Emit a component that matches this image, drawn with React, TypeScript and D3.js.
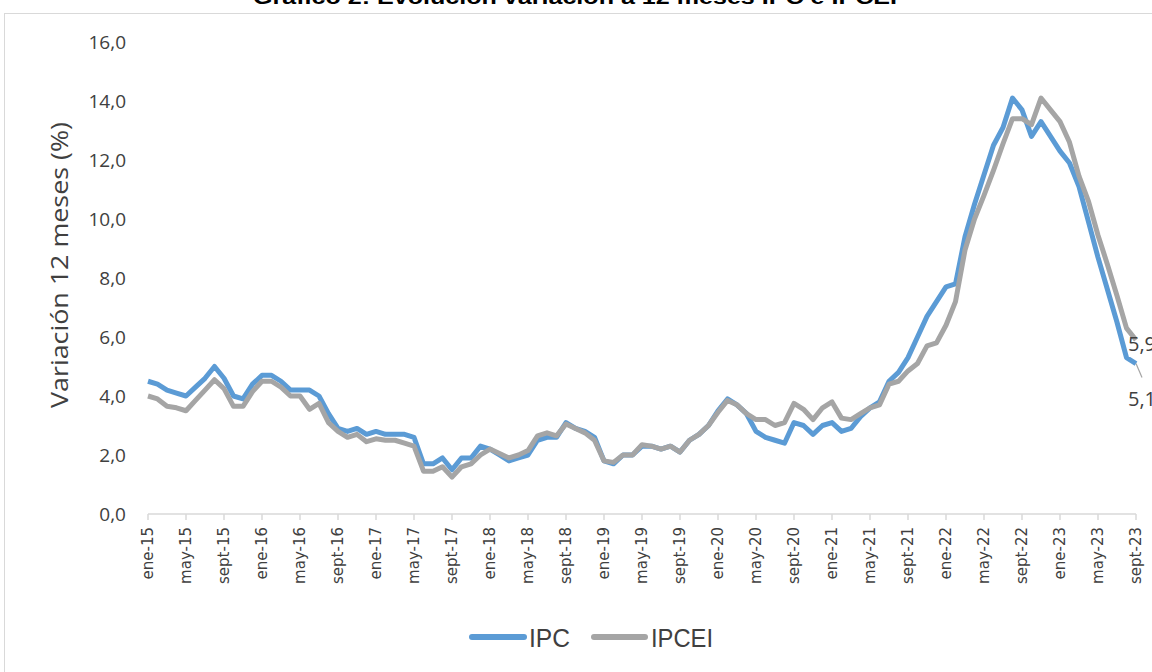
import React from "react";
import * as d3 from "d3";

const monthNames = ["ene", "feb", "mar", "abr", "may", "jun", "jul", "ago", "sept", "oct", "nov", "dic"];
const years = [15, 16, 17, 18, 19, 20, 21, 22, 23];
const lastMonthCount = 9;

const categories: string[] = [];
years.forEach((yr, yi) => {
  const n = yi === years.length - 1 ? lastMonthCount : 12;
  for (let m = 0; m < n; m++) categories.push(`${monthNames[m]}-${yr}`);
});

const ipc = [
  4.5, 4.4, 4.2, 4.1, 4.0, 4.3, 4.6, 5.0, 4.6, 4.0, 3.9, 4.4,
  4.7, 4.7, 4.5, 4.2, 4.2, 4.2, 4.0, 3.4, 2.9, 2.8, 2.9, 2.7,
  2.8, 2.7, 2.7, 2.7, 2.6, 1.7, 1.7, 1.9, 1.5, 1.9, 1.9, 2.3,
  2.2, 2.0, 1.8, 1.9, 2.0, 2.5, 2.6, 2.6, 3.1, 2.9, 2.8, 2.6,
  1.8, 1.7, 2.0, 2.0, 2.3, 2.3, 2.2, 2.3, 2.1, 2.5, 2.7, 3.0,
  3.5, 3.9, 3.7, 3.4, 2.8, 2.6, 2.5, 2.4, 3.1, 3.0, 2.7, 3.0,
  3.1, 2.8, 2.9, 3.3, 3.6, 3.8, 4.5, 4.8, 5.3, 6.0, 6.7, 7.2,
  7.7, 7.8, 9.4, 10.5, 11.5, 12.5, 13.1, 14.1, 13.7, 12.8, 13.3, 12.8,
  12.3, 11.9, 11.1, 9.9, 8.7, 7.6, 6.5, 5.3, 5.1,
];

const ipcei = [
  4.0, 3.9, 3.65, 3.6, 3.5, 3.85, 4.2, 4.55, 4.25, 3.65, 3.65, 4.15,
  4.5, 4.5, 4.3, 4.0, 4.0, 3.55, 3.75, 3.1, 2.8, 2.6, 2.7, 2.45,
  2.55, 2.5, 2.5, 2.4, 2.3, 1.45, 1.45, 1.6, 1.25, 1.6, 1.7, 2.0,
  2.2, 2.05, 1.9, 2.0, 2.15, 2.65, 2.75, 2.65, 3.05, 2.9, 2.75, 2.5,
  1.8, 1.75, 2.0, 2.0, 2.35, 2.3, 2.2, 2.3, 2.1, 2.5, 2.7, 3.0,
  3.45, 3.85, 3.7, 3.4, 3.2, 3.2, 3.0, 3.1, 3.75, 3.55, 3.2, 3.6,
  3.8, 3.25, 3.2, 3.4, 3.6, 3.7, 4.4, 4.5, 4.85, 5.1, 5.7, 5.8,
  6.4, 7.2, 8.95, 10.0, 10.8, 11.65, 12.55, 13.4, 13.4, 13.2, 14.1, 13.7,
  13.3, 12.6, 11.45, 10.6, 9.45, 8.45, 7.4, 6.3, 5.9,
];

const yTicks = [0, 2, 4, 6, 8, 10, 12, 14, 16];
const seriesNames = ["IPC", "IPCEI"];
const title = "Gráfico 2: Evolución variación a 12 meses IPC e IPCEI";
const yTitle = "Variación 12 meses (%)";

const W = 1152;
const H = 672;
const BLUE = "#5B9BD5";
const GRAY = "#A5A5A5";
const TEXT = "#404040";

export default function App() {
  const x = d3.scalePoint<string>().domain(categories).range([148, 1136]);
  const y = d3.scaleLinear().domain([0, 16]).range([514, 42]);
  const line = d3
    .line<number>()
    .x((_, i) => x(categories[i]) as number)
    .y((d) => y(d));
  const fmt = (v: number) => v.toFixed(1).replace(".", ",");
  const tickCats = categories.filter((_, i) => i % 4 === 0);
  const lastCat = categories[categories.length - 1];
  const lx = x(lastCat) as number;
  const lastIpc = ipc[ipc.length - 1];
  const lastIpcei = ipcei[ipcei.length - 1];

  return (
    <svg
      width={W}
      height={H}
      style={{ position: "absolute", left: 0, top: 0, background: "#fff" }}
      fontFamily="'Open Sans', sans-serif"
    >
      <rect x={4.5} y={13.5} width={1300} height={800} fill="#fff" stroke="#d9d9d9" strokeWidth={1} />
      <text x={575} y={4} textAnchor="middle" fontSize={21} fontWeight="bold" fill="#000" fontFamily="'Liberation Sans', Arial, sans-serif" textLength={644} lengthAdjust="spacingAndGlyphs">
        {title}
      </text>

      {/* y axis labels */}
      {yTicks.map((t) => (
        <text key={t} x={126} y={y(t) + 7} textAnchor="end" fontSize={19} fill={TEXT}>
          {fmt(t)}
        </text>
      ))}
      <text
        transform={`translate(68,${265}) rotate(-90)`}
        textAnchor="middle"
        fontSize={23}
        fill={TEXT}
        textLength={286}
        lengthAdjust="spacingAndGlyphs"
      >
        {yTitle}
      </text>

      {/* x axis */}
      <line x1={148} x2={1136} y1={514} y2={514} stroke="#d9d9d9" strokeWidth={1.5} />
      {tickCats.map((c) => (
        <line key={c} x1={x(c)} x2={x(c)} y1={514} y2={520} stroke="#d9d9d9" strokeWidth={1.5} />
      ))}
      {tickCats.map((c) => (
        <text
          key={"l" + c}
          transform={`translate(${(x(c) as number) + 5},527) rotate(-90)`}
          textAnchor="end"
          fontSize={15}
          fill={TEXT}
          fontFamily="'DejaVu Sans', sans-serif"
        >
          {c}
        </text>
      ))}

      {/* series */}
      <path d={line(ipc) || ""} fill="none" stroke={BLUE} strokeWidth={5} strokeLinejoin="round" />
      <path d={line(ipcei) || ""} fill="none" stroke={GRAY} strokeWidth={5} strokeLinejoin="round" />

      {/* data labels */}
      <line x1={lx} y1={y(lastIpc)} x2={lx + 6} y2={y(lastIpc) + 14} stroke={GRAY} strokeWidth={1.2} />
      <text x={1128} y={y(lastIpcei) + 11} fontSize={20} fill={TEXT}>
        {fmt(lastIpcei)}
      </text>
      <text x={1128} y={y(lastIpc) + 42} fontSize={20} fill={TEXT}>
        {fmt(lastIpc)}
      </text>

      {/* legend */}
      <line x1={472} x2={524} y1={637} y2={637} stroke={BLUE} strokeWidth={6} strokeLinecap="round" />
      <text x={529} y={647} fontSize={26} fill={TEXT} fontFamily="'Liberation Sans Narrow', 'Liberation Sans', sans-serif" textLength={41} lengthAdjust="spacingAndGlyphs">
        {seriesNames[0]}
      </text>
      <line x1={594} x2={645} y1={637} y2={637} stroke={GRAY} strokeWidth={6} strokeLinecap="round" />
      <text x={651} y={647} fontSize={26} fill={TEXT} fontFamily="'Liberation Sans Narrow', 'Liberation Sans', sans-serif" textLength={62} lengthAdjust="spacingAndGlyphs">
        {seriesNames[1]}
      </text>
    </svg>
  );
}
